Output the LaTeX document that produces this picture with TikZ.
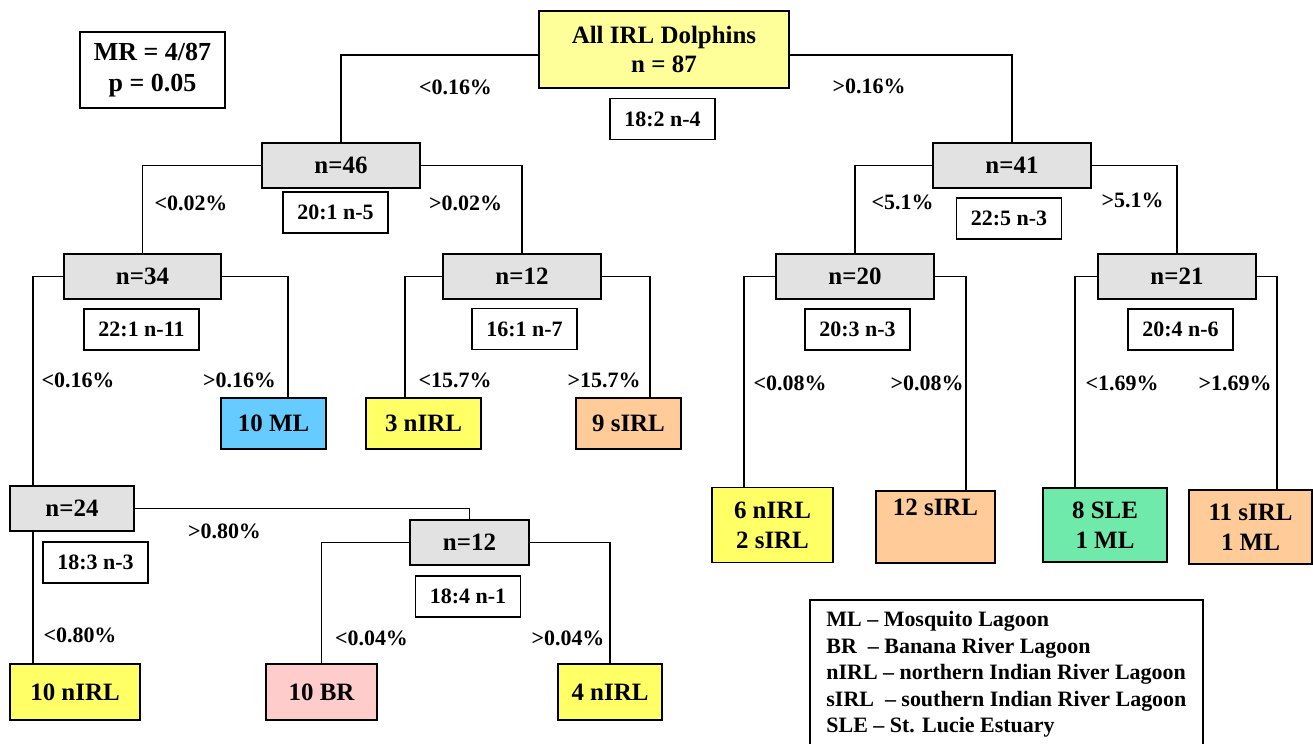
\documentclass[tikz,border=0pt]{standalone}
\usepackage{fontspec}
\setmainfont{Liberation Serif}
\usepackage{tikz}
\usetikzlibrary{positioning}
\definecolor{rootyellow}{HTML}{FFFF99}
\definecolor{leafyellow}{HTML}{FFFF66}
\definecolor{leafblue}{HTML}{66CCFF}
\definecolor{leaforange}{HTML}{FFCC99}
\definecolor{leafgreen}{HTML}{70EAAA}
\definecolor{leafpink}{HTML}{FFCCCC}
\definecolor{splitgray}{HTML}{E2E2E2}
\tikzstyle{link} = [line width=0.8pt]

\begin{document}
\begin{tikzpicture}[x=0.02cm,y=-0.02cm]
			\tikzstyle{box} = [rectangle, draw=black, line width=1.1pt, inner sep=0pt, align=center, font=\fontsize{14.2}{17}\selectfont\bfseries];
			\tikzstyle{split} = [box, fill=splitgray, minimum height=0.9cm];
			\tikzstyle{ratio} = [box, fill=white, minimum width=2.1cm, minimum height=0.82cm, font=\fontsize{12.5}{15}\selectfont\bfseries];
			\tikzstyle{leaf} = [box, minimum height=1.02cm];
			\tikzstyle{lbl} = [inner sep=0pt, font=\fontsize{12.5}{15}\selectfont\bfseries];
			\useasboundingbox (0,0) rectangle (1313,744);
			% top of the tree
			\node (root) [box, fill=rootyellow, minimum width=5cm, minimum height=1.54cm] at (664,49.5) {All IRL Dolphins\\n = 87};
			\node (stat0) [ratio] at (662.5,119) {18:2 n-4};
			\node (mr) [box, minimum width=2.9cm, minimum height=1.52cm, font=\fontsize{14.8}{17.5}\selectfont\bfseries] at (152.5,70) {MR = 4/87\\p = 0.05};
			\node (n46) [split, minimum width=3.16cm] at (341,165.5) {n=46};
			\node (s46) [ratio] at (335.5,212.5) {20:1 n-5};
			\node (n41) [split, minimum width=3.16cm] at (1012,165.5) {n=41};
			\node (s41) [ratio] at (1009,218.5) {22:5 n-3};
			\node (n34) [split, minimum width=3.14cm] at (142.5,276.5) {n=34};
			\node (s34) [ratio, minimum width=2.3cm] at (141.5,329.5) {22:1 n-11};
			\node (n12a) [split, minimum width=3.16cm] at (522,276.5) {n=12};
			\node (s12a) [ratio] at (524.5,329) {16:1 n-7};
			\node (n20) [split, minimum width=3.16cm] at (855,276.5) {n=20};
			\node (s20) [ratio] at (857.5,329.5) {20:3 n-3};
			\node (n21) [split, minimum width=3.16cm] at (1177,276.5) {n=21};
			\node (s21) [ratio] at (1180.5,329.5) {20:4 n-6};
			% leaves
			\node (ml) [leaf, fill=leafblue, minimum width=2.1cm] at (273.5,423.5) {10 ML};
			\node (nirlB) [leaf, fill=leafyellow, minimum width=2.3cm] at (423.5,423.5) {3 nIRL};
			\node (sirlA) [leaf, fill=leaforange, minimum width=2.1cm] at (628.5,423.5) {9 sIRL};
			\node (mixA) [leaf, fill=leafyellow, minimum width=2.42cm, minimum height=1.5cm] at (772.5,525) {6 nIRL\\2 sIRL};
			\node (sirlB) [leaf, fill=leaforange, minimum width=2.38cm, minimum height=1.44cm] at (935.5,527) {12 sIRL\\\strut};
			\node (sle) [leaf, fill=leafgreen, minimum width=2.48cm, minimum height=1.48cm] at (1105,525) {8 SLE\\1 ML};
			\node (sirlC) [leaf, fill=leaforange, minimum width=2.46cm, minimum height=1.48cm] at (1250.5,527) {11 sIRL\\1 ML};
			\node (n24) [split, minimum width=2.48cm] at (72,508.5) {n=24};
			\node (s24) [ratio] at (95.5,562.5) {18:3 n-3};
			\node (n12b) [split, minimum width=2.38cm] at (469.5,542.5) {n=12};
			\node (s12b) [ratio] at (468,596.5) {18:4 n-1};
			\node (nirlA) [leaf, fill=leafyellow, minimum width=2.6cm, minimum height=1.12cm] at (75,692) {10 nIRL};
			\node (br) [leaf, fill=leafpink, minimum width=2.22cm, minimum height=1.12cm] at (321.5,692) {10 BR};
			\node (nirlC) [leaf, fill=leafyellow, minimum width=2.08cm, minimum height=1.12cm] at (610,692) {4 nIRL};
			% split labels
			\node (l0a) [lbl] at (455.5,87) {<0.16\%};
			\node (l0b) [lbl] at (869,86) {>0.16\%};
			\node (l46a) [lbl] at (191,203) {<0.02\%};
			\node (l46b) [lbl] at (465.5,203) {>0.02\%};
			\node (l41a) [lbl] at (902.5,202) {<5.1\%};
			\node (l41b) [lbl] at (1132.5,200) {>5.1\%};
			\node (l34a) [lbl] at (78,380) {<0.16\%};
			\node (l34b) [lbl] at (239.5,380) {>0.16\%};
			\node (l12a) [lbl] at (455,380) {<15.7\%};
			\node (l12b) [lbl] at (604,380) {>15.7\%};
			\node (l20a) [lbl] at (790,383) {<0.08\%};
			\node (l20b) [lbl] at (927,383) {>0.08\%};
			\node (l21a) [lbl] at (1122,383) {<1.69\%};
			\node (l21b) [lbl] at (1235,383) {>1.69\%};
			\node (l24b) [lbl] at (224.5,531) {>0.80\%};
			\node (l24a) [lbl] at (80,635) {<0.80\%};
			\node (l12c) [lbl] at (371.5,638) {<0.04\%};
			\node (l12d) [lbl] at (568,638) {>0.04\%};
			\node (legend) [box, anchor=north west, align=left, inner xsep=0.3cm, minimum width=7.86cm, minimum height=2.98cm, font=\fontsize{12.5}{15.1}\selectfont\bfseries] at (809,599) {ML – Mosquito Lagoon\\BR \ – Banana River Lagoon\\nIRL – northern Indian River Lagoon\\sIRL \ – southern Indian River Lagoon\\SLE – St. Lucie Estuary};
			% branches
			\draw [link] ([yshift=-0.11cm]root.west) -| (n46.north);
			\draw [link] ([yshift=-0.11cm]root.east) -| (n41.north);
			\draw [link] (n46.west) -| (n34.north);
			\draw [link] (n46.east) -| (n12a.north);
			\draw [link] (n41.west) -| (n20.north);
			\draw [link] (n41.east) -| (n21.north);
			\draw [link] (n34.west) -| ([xshift=-0.78cm]n24.north);
			\draw [link] (n34.east) -| ([xshift=0.29cm]ml.north);
			\draw [link] (n12a.west) -| ([xshift=-0.37cm]nirlB.north);
			\draw [link] (n12a.east) -| ([xshift=0.43cm]sirlA.north);
			\draw [link] (n20.west) -| ([xshift=-0.57cm]mixA.north);
			\draw [link] (n20.east) -| ([xshift=0.61cm]sirlB.north);
			\draw [link] (n21.west) -| ([xshift=-0.6cm]sle.north);
			\draw [link] (n21.east) -| ([xshift=0.53cm]sirlC.north);
			\draw [link] (n24.east) -| (n12b.north);
			\draw [link] ([xshift=-0.78cm]n24.south) -- ([xshift=-0.78cm]n24.south |- nirlA.north);
			\draw [link] (n12b.west) -| (br.north);
			\draw [link] (n12b.east) -| (nirlC.north);
		\end{tikzpicture}
\end{document}
